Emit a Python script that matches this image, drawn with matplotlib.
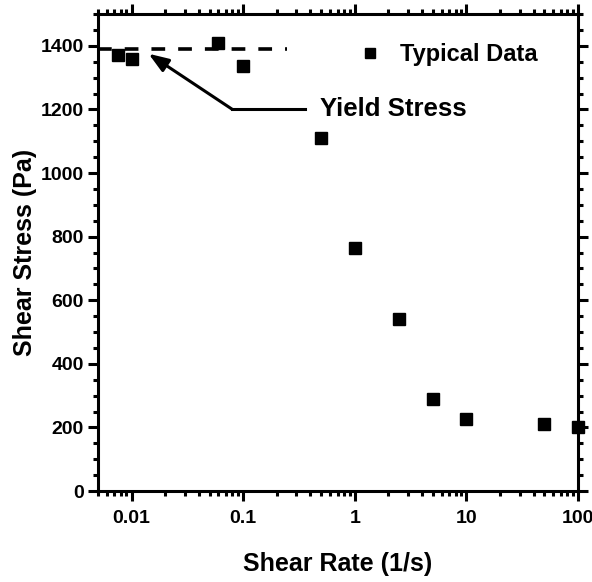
import matplotlib.pyplot as plt
from matplotlib.ticker import LogLocator, FixedLocator, MultipleLocator

plt.rcParams['font.family'] = ['Liberation Sans', 'DejaVu Sans']
plt.rcParams['font.weight'] = 'bold'

# data
shear_rate = [0.0075, 0.01, 0.06, 0.1, 0.5, 1, 2.5, 5, 10, 50, 100]
shear_stress = [1370, 1360, 1410, 1335, 1110, 765, 540, 290, 225, 210, 200]

yield_stress = 1390
yield_x = [0.005, 0.245]
arrow_tip = (0.0142, 1375)
arrow_elbow = (0.08, 1200)
arrow_end = (0.36, 1200)

x_ticks = [0.01, 0.1, 1, 10, 100]
x_ticklabels = ["0.01", "0.1", "1", "10", "100"]
y_ticks = [0, 200, 400, 600, 800, 1000, 1200, 1400]

fig = plt.figure(figsize=(5.92, 5.82), dpi=100)
ax = fig.add_axes([98/592, 1-491/582, 480/592, 477/582])

ax.plot(shear_rate, shear_stress, 's', color='black', markersize=8.5,
        clip_on=False, zorder=5, label='Typical Data')
ax.plot(yield_x, [yield_stress, yield_stress], color='black', lw=2.6,
        dashes=(3.8, 3.6), zorder=4)

# yield stress pointer
ax.plot([arrow_elbow[0], arrow_end[0]], [arrow_elbow[1], arrow_end[1]],
        color='black', lw=2.2)
ax.annotate('', xy=arrow_tip, xytext=arrow_elbow,
            arrowprops=dict(arrowstyle='-|>,head_length=0.6,head_width=0.22',
                            color='black', lw=2.2,
                            mutation_scale=20, shrinkA=0, shrinkB=0))
ax.text(0.485, 1200, 'Yield Stress', fontsize=18.5, fontweight='bold',
        va='center', ha='left')

ax.set_xscale('log')
ax.set_xlim(0.005, 100)
ax.set_ylim(0, 1500)

ax.xaxis.set_major_locator(FixedLocator(x_ticks))
ax.set_xticklabels(x_ticklabels)
ax.xaxis.set_minor_locator(LogLocator(base=10, subs=range(2, 10), numticks=20))
ax.yaxis.set_major_locator(FixedLocator(y_ticks))
ax.yaxis.set_minor_locator(MultipleLocator(50))

for s in ax.spines.values():
    s.set_linewidth(2.2)
ax.tick_params(which='both', direction='out', top=True, right=True,
               labelsize=14, width=2.2)
ax.tick_params(which='major', length=7, pad=3)
ax.tick_params(which='minor', length=3.5)
ax.tick_params(axis='x', pad=7)
for lab in ax.get_xticklabels() + ax.get_yticklabels():
    lab.set_fontweight('bold')

ax.set_xlabel('Shear Rate (1/s)', fontsize=18, fontweight='bold', labelpad=18)
ax.set_ylabel('Shear Stress (Pa)', fontsize=18, fontweight='bold', labelpad=3)

leg = ax.legend(loc='center left', bbox_to_anchor=(0.497, 0.915), frameon=False,
                fontsize=17, markerscale=0.8, handlelength=1.0, handletextpad=0.8)
for t in leg.get_texts():
    t.set_fontweight('bold')

fig.savefig('out.png', dpi=100)
